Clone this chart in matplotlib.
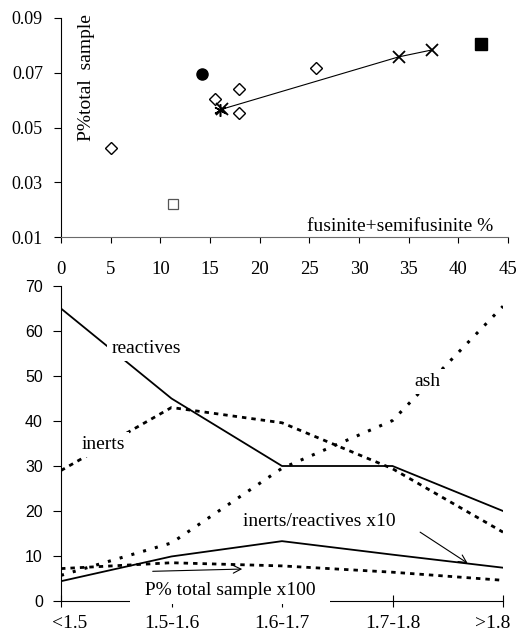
import matplotlib
matplotlib.use("Agg")
import matplotlib.pyplot as plt
import matplotlib.transforms as mtransforms

SERIF = "Liberation Serif"
SANS = "Liberation Sans"
plt.rcParams["font.family"] = SERIF

# top panel: P content vs fusinite+semifusinite
diamond_x = [5.0, 15.5, 17.9, 17.9, 25.7]
diamond_y = [0.0425, 0.0604, 0.0640, 0.0553, 0.0717]
cross_x = [16.2, 34.0, 37.3]
cross_y = [0.0567, 0.0758, 0.0783]
star_x, star_y = [16.0], [0.0563]
circle_x, circle_y = [14.2], [0.0696]
square_x, square_y = [42.3], [0.0805]
open_sq_x, open_sq_y = [11.3], [0.0221]
p_ticks = [0.01, 0.03, 0.05, 0.07, 0.09]

# bottom panel: density fractions
fractions = ["<1.5", "1.5-1.6", "1.6-1.7", "1.7-1.8", ">1.8"]
reactives = [65, 45, 30, 30, 20]
inerts = [29, 43, 39.6, 29.4, 15.3]
ash = [5.7, 12.9, 29.5, 40.1, 65.5]
ratio_x10 = [4.4, 9.9, 13.3, 10.3, 7.4]
p_x100 = [7.2, 8.5, 7.8, 6.4, 4.6]
pct_ticks = list(range(0, 71, 10))

W, H = 517, 632
fig = plt.figure(figsize=(W / 100, H / 100), dpi=100)
fig.patch.set_facecolor("white")

# ── upper scatter ───────────────────────────────────────────────────
ax1 = fig.add_axes([61 / W, 1 - 237 / H, 447 / W, 219 / H])
ax1.plot(diamond_x, diamond_y, ls="none", marker="D", ms=6.5, mfc="white",
         mec="black", mew=1.0)
ax1.plot(cross_x, cross_y, color="black", lw=0.8, marker="x", ms=9, mew=1.3)
ax1.plot(star_x, star_y, ls="none", marker=(6, 2, 0), ms=9, mec="black", mew=1.1)
ax1.plot(circle_x, circle_y, ls="none", marker="o", ms=8, color="black")
ax1.plot(square_x, square_y, ls="none", marker="s", ms=8, color="black")
ax1.plot(open_sq_x, open_sq_y, ls="none", marker="s", ms=7, mfc="white",
         mec="#555555", mew=0.9)

ax1.set_xlim(0, 45)
ax1.set_ylim(0.01, 0.09)
ax1.set_xticks(range(0, 46, 5))
ax1.set_yticks(p_ticks)
ax1.set_yticklabels([f"{v:.2f}" for v in p_ticks])
for s in ["top", "right"]:
    ax1.spines[s].set_visible(False)
ax1.spines["bottom"].set_color("#6a6a6a")
ax1.tick_params(axis="x", direction="out", length=4, pad=13, labelsize=13.5)
ax1.tick_params(axis="y", direction="out", length=5, pad=8, labelsize=13)
ax1.text(0.056, 0.726, "P%total  sample", transform=ax1.transAxes,
         rotation=90, ha="center", va="center", fontsize=14)
ax1.text(0.966, 0.05, "fusinite+semifusinite %", transform=ax1.transAxes,
         ha="right", va="center", fontsize=14)

# ── lower lines ─────────────────────────────────────────────────────
ax2 = fig.add_axes([61 / W, 31 / H, 442 / W, 315 / H])
xs = range(len(fractions))
ax2.plot(xs, reactives, color="black", lw=1.3)
ax2.plot(xs, inerts, color="black", lw=2.0, ls=(0, (1.6, 1.8)))
ax2.plot(xs, ash, color="black", lw=2.2, ls=(0, (1.0, 3.0)))
ax2.plot(xs, ratio_x10, color="black", lw=1.3)
ax2.plot(xs, p_x100, color="black", lw=2.0, ls=(0, (1.6, 1.8)))

ax2.set_xlim(0, 4)
ax2.set_ylim(0, 70)
ax2.set_xticks(list(xs))
ax2.set_xticklabels(fractions, fontsize=14)
ax2.set_yticks(pct_ticks)
ax2.set_yticklabels([str(v) for v in pct_ticks], family=SANS, fontsize=11.5)
for s in ["top", "right"]:
    ax2.spines[s].set_visible(False)
ax2.tick_params(axis="x", direction="inout", length=8, pad=6)
ax2.tick_params(axis="y", direction="out", length=6, pad=7)

# nudge the end labels inward so they stay on the page
xlabels = ax2.get_xticklabels()
xlabels[0].set_transform(xlabels[0].get_transform() +
                         mtransforms.ScaledTranslation(0.085, 0, fig.dpi_scale_trans))
xlabels[-1].set_transform(xlabels[-1].get_transform() +
                          mtransforms.ScaledTranslation(-0.10, 0, fig.dpi_scale_trans))

box = dict(boxstyle="square,pad=0.2", fc="white", ec="none")
ax2.text(0.77, 56.1, "reactives", ha="center", va="center", fontsize=14, bbox=box)
ax2.text(3.32, 48.8, "ash", ha="center", va="center", fontsize=14, bbox=box)
ax2.text(0.38, 34.8, "inerts", ha="center", va="center", fontsize=14, bbox=box)
ax2.text(2.34, 17.7, "inerts/reactives x10", ha="center", va="center",
         fontsize=14)
ax2.text(1.53, 2.4, "  P% total sample x100  ", ha="center", va="center",
         fontsize=14, clip_on=False, zorder=5,
         bbox=dict(boxstyle="square,pad=0.25", fc="white", ec="none"))

ax2.annotate("", xy=(3.68, 8.4), xytext=(3.25, 15.3),
             arrowprops=dict(arrowstyle="->", lw=0.8, color="black",
                             shrinkA=0, shrinkB=0, mutation_scale=14))
ax2.annotate("", xy=(1.64, 7.1), xytext=(0.83, 6.6),
             arrowprops=dict(arrowstyle="->", lw=0.8, color="black",
                             shrinkA=0, shrinkB=0, mutation_scale=14))

fig.savefig("out.png", dpi=100, facecolor="white")
